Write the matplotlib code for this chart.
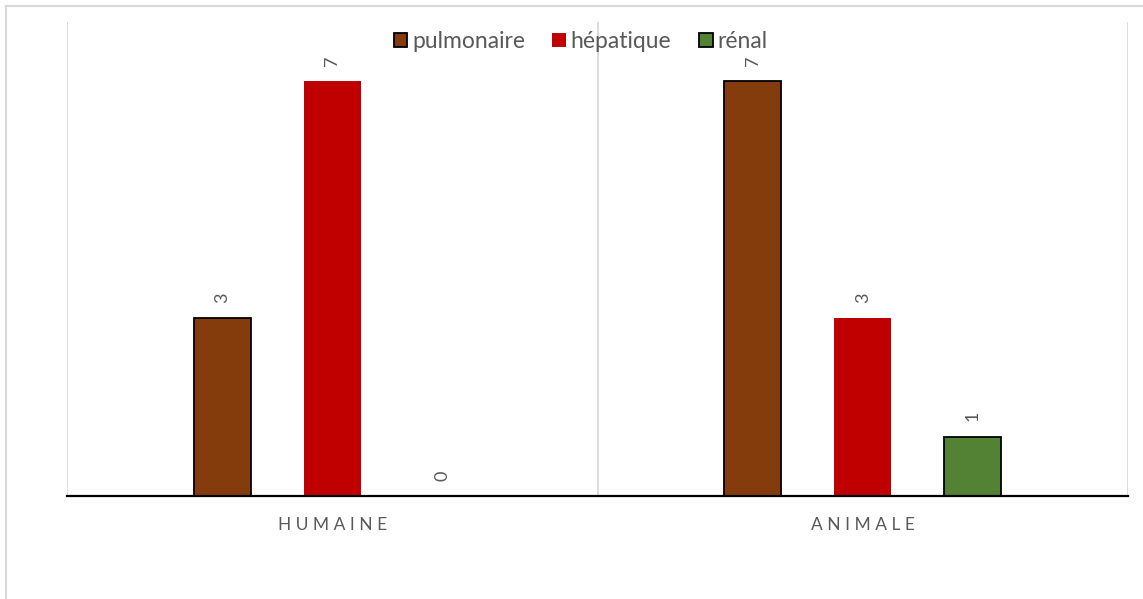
import matplotlib
matplotlib.use("Agg")
import matplotlib.pyplot as plt
from matplotlib.lines import Line2D
from matplotlib.patches import Patch
import numpy as np

plt.rcParams['font.family'] = ['Lato', 'DejaVu Sans']

categories = ["HUMAINE", "ANIMALE"]
series_names = ["pulmonaire", "hépatique", "rénal"]
pulmonaire = [3, 7]
hepatique = [7, 3]
renal = [0, 1]

colors = ["#843C0C", "#C00000", "#548235"]
edges = ["black", "#C00000", "black"]
text_gray = "#595959"

fig = plt.figure(figsize=(11.43, 5.99), dpi=100)
ax = fig.add_axes([0.0586, 0.172, 0.9283, 0.791])

x = np.arange(len(categories))
width = 0.1075
offset = 0.2075
all_series = [pulmonaire, hepatique, renal]
for i, (name, vals) in enumerate(zip(series_names, all_series)):
    pos = x + (i - 1) * offset
    ax.bar(pos, vals, width, color=colors[i], edgecolor=edges[i],
           linewidth=1.3 if edges[i] == "black" else 0.0, label=name, zorder=3)
    for p, v in zip(pos, vals):
        ax.annotate(str(v), (p, v), xytext=(0, 11), textcoords="offset points",
                    ha="center", va="bottom", rotation=90, fontsize=13,
                    color=text_gray)

ax.set_xlim(-0.5, len(categories) - 0.5)
ax.set_ylim(0, 8)
for b in np.arange(-0.5, len(categories), 1.0):
    ax.axvline(b, color="#D9D9D9", lw=1.3, zorder=1)

for s in ["top", "right", "left"]:
    ax.spines[s].set_visible(False)
ax.spines["bottom"].set_color("black")
ax.spines["bottom"].set_linewidth(1.6)
ax.spines["bottom"].set_zorder(4)
ax.set_yticks([])
ax.set_xticks(x)
ax.set_xticklabels([" ".join(c) for c in categories], fontsize=12.5, color=text_gray)
ax.tick_params(axis="x", length=0, pad=15)

handles = [Patch(facecolor=colors[i], edgecolor=edges[i],
                 linewidth=1.3 if edges[i] == "black" else 0.0) for i in range(3)]
leg = ax.legend(handles, series_names, loc="upper center", bbox_to_anchor=(0.484, 1.01),
                ncol=3, frameon=False, fontsize=16.5, handlelength=0.6, handleheight=0.6,
                handletextpad=0.2, columnspacing=1.2, borderaxespad=0.2)
for t in leg.get_texts():
    t.set_color(text_gray)

# outer chart border (left and top visible)
fig.add_artist(Line2D([6/1143, 6/1143], [0, 1 - 6/599], color="#D9D9D9", lw=1.5,
                      transform=fig.transFigure))
fig.add_artist(Line2D([6/1143, 1], [1 - 6/599, 1 - 6/599], color="#D9D9D9", lw=1.5,
                      transform=fig.transFigure))

fig.savefig("out.png", dpi=100)
